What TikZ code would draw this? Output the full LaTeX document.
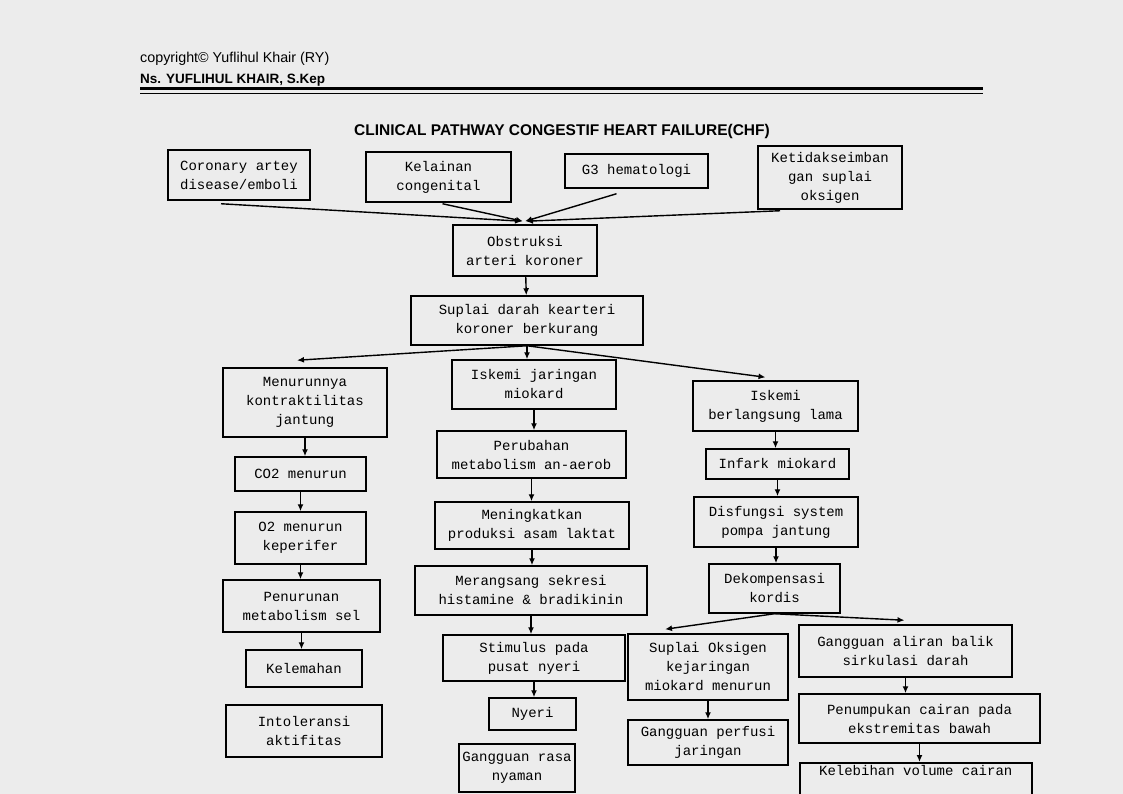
\documentclass[tikz,border=0pt]{standalone}
\usepackage{fontspec}
\setmainfont{Liberation Mono}
\newfontfamily\headfont{Liberation Sans}
\usepackage{tikz}
\usetikzlibrary{calc,arrows.meta}
\definecolor{paper}{RGB}{236,236,236}
\tikzset{
  flow/.style={draw,line width=1.5pt,align=center,inner sep=1pt,
    font=\fontsize{14}{19}\selectfont},
  link/.style={line width=1.4pt,-{Latex[length=7pt,width=6pt]}},
}
% box from left, top, right, bottom (pixels)
\newcommand{\boxat}[6]{%
  \node[flow,minimum width={#4-#2},minimum height={#5-#3}] (#1)
    at ({(#2+#4)/2},{(#3+#5)/2}) {#6};}

\begin{document}
\begin{tikzpicture}[x=1pt,y=-1pt]
    \fill[paper] (0,0) rectangle (1123,794);
    \useasboundingbox (0,0) rectangle (1123,794);
    \node[anchor=west,inner xsep=0pt,font=\headfont\fontsize{14.3}{16}\selectfont] (copy) at (140,59) {copyright© Yuflihul Khair (RY)};
    \node[anchor=west,inner xsep=0pt,font=\headfont\bfseries\fontsize{13.5}{15}\selectfont] (ns) at (140,80) {Ns. YUFLIHUL KHAIR, S.Kep};
    \draw[line width=3pt] (140,88.5) -- (983,88.5);
    \draw[line width=0.8pt] (140,93) -- (983,93);
    \node[font=\headfont\bfseries\fontsize{15.5}{18}\selectfont] (title) at (562,131) {CLINICAL PATHWAY CONGESTIF HEART FAILURE(CHF)};
    % causes
    \boxat{cad}{168}{150}{310}{200}{Coronary artey\\disease/emboli}
    \boxat{kong}{366}{152}{511}{202}{Kelainan\\congenital}
    \boxat{hema}{565}{154}{708}{188}{G3 hematologi}
    \boxat{oks}{758}{146}{902}{209}{Ketidakseimban\\gan suplai\\oksigen}
    \boxat{obs}{453}{225}{597}{276}{Obstruksi\\arteri koroner}
    \boxat{supl}{411}{296}{643}{345}{Suplai darah kearteri\\koroner berkurang}
    % left column
    \boxat{kontr}{223}{368}{387}{437}{Menurunnya\\kontraktilitas\\jantung}
    \boxat{co}{235}{457}{366}{491}{CO2 menurun}
    \boxat{otwo}{235}{512}{366}{564}{O2 menurun\\keperifer}
    \boxat{meta}{223}{580}{380}{632}{Penurunan\\metabolism sel}
    \boxat{lemah}{246}{650}{362}{687}{Kelemahan}
    \boxat{intol}{226}{705}{382}{757}{Intoleransi\\aktifitas}
    % middle column
    \boxat{isk}{452}{360}{616}{409}{Iskemi jaringan\\miokard}
    \boxat{aerob}{437}{431}{626}{478}{Perubahan\\metabolism an-aerob}
    \boxat{laktat}{435}{502}{629}{549}{Meningkatkan\\produksi asam laktat}
    \boxat{hist}{415}{566}{647}{615}{Merangsang sekresi\\histamine \& bradikinin}
    \boxat{stim}{443}{635}{625}{681}{Stimulus pada\\pusat nyeri}
    \boxat{nyeri}{489}{698}{576}{730}{Nyeri}
    \boxat{nyaman}{459}{744}{575}{792}{Gangguan rasa\\nyaman}
    % right column
    \boxat{lama}{693}{381}{858}{431}{Iskemi\\berlangsung lama}
    \boxat{infark}{706}{449}{849}{479}{Infark miokard}
    \boxat{pompa}{694}{497}{858}{547}{Disfungsi system\\pompa jantung}
    \boxat{dekom}{709}{564}{840}{613}{Dekompensasi\\kordis}
    \boxat{miok}{628}{634}{788}{700}{Suplai Oksigen\\kejaringan\\miokard menurun}
    \boxat{perf}{628}{720}{788}{765}{Gangguan perfusi\\jaringan}
    \boxat{balik}{799}{625}{1012}{677}{Gangguan aliran balik\\sirkulasi darah}
    \boxat{tumpuk}{799}{694}{1040}{743}{Penumpukan cairan pada\\ekstremitas bawah}
    \node[flow,anchor=north west,minimum width=232,minimum height=40] (lebih) at (799,762) {Kelebihan volume cairan\\\strut};
    % connectors
    \draw[link] ($(cad.south)+(-18,3)$) -- ($(obs.north)+(-3,-3)$);
    \draw[link] ($(kong.south)+(4,1)$) -- ($(obs.north)+(-2,-3)$);
    \draw[link] ($(hema.south)+(-20,5)$) -- ($(obs.north)+(0,-3)$);
    \draw[link] ($(oks.south)+(-50,1)$) -- ($(obs.north)+(1,-3)$);
    \draw[link] (obs) -- (supl);
    \draw[link] (supl.south) -- ($(kontr.north)+(-8,-7)$);
    \draw[link] (supl.south) -- (supl.south |- isk.north);
    \draw[link] (supl.south) -- ($(lama.north)+(-10,-3)$);
    \foreach \a/\b in {kontr/co,co/otwo,otwo/meta,meta/lemah,
                       isk/aerob,aerob/laktat,laktat/hist,hist/stim,stim/nyeri,
                       lama/infark,infark/pompa,pompa/dekom,
                       miok/perf,balik/tumpuk,tumpuk/lebih}
      \draw[link] (\a.south) -- (\a.south |- \b.north);
    \draw[link] (dekom.south) -- ($(miok.north)+(-43,-4)$);
    \draw[link] (dekom.south) -- ($(balik.north)+(-1,-4)$);
\end{tikzpicture}
\end{document}
